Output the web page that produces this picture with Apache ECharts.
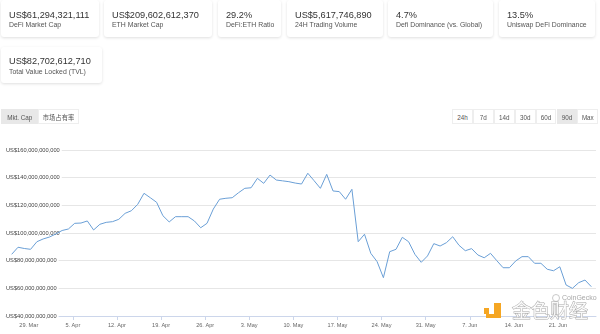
<!DOCTYPE html>
<html>
<head>
<meta charset="utf-8">
<script src="https://cdn.jsdelivr.net/npm/echarts@6/dist/echarts.min.js"></script>
<style>
  html, body { margin: 0; padding: 0; background: #fff; }
  body { width: 600px; height: 334px; position: relative; overflow: hidden;
         font-family: "Liberation Sans", Arial, sans-serif; }
  #chart { position: absolute; left: 0; top: 0; width: 600px; height: 334px; }
  .card { position: absolute; background: #fff; border-radius: 3px;
          box-shadow: 0 1px 3px rgba(0,0,0,0.13); box-sizing: border-box; padding-left: 8px; }
  .card .v { position: absolute; left: 8px; font-size: 9.2px; color: #333; line-height: 10px; white-space: nowrap; }
  .card .l { position: absolute; left: 8px; font-size: 6.9px; color: #555; line-height: 8px; white-space: nowrap; }
  .btn { position: absolute; top: 109px; height: 15px; line-height: 15px; font-size: 6.3px; color: #555;
         text-align: center; background: #fff; border: 1px solid #eee; box-sizing: border-box; }
  .btn.on { background: #e8e8e8; border-color: #e8e8e8; }
  .cjk { font-family: "Noto Sans CJK SC", sans-serif; }
</style>
</head>
<body>
<div id="chart"></div>
<div id="cards"></div>
<div id="buttons"></div>
<script>
// Summary figures shown above the chart
const statValues = ['US$61,294,321,111', 'US$209,602,612,370', '29.2%', 'US$5,617,746,890', '4.7%', '13.5%', 'US$82,702,612,710'];
const statLabels = ['DeFi Market Cap', 'ETH Market Cap', 'DeFi:ETH Ratio', '24H Trading Volume', 'Defi Dominance (vs. Global)', 'Uniswap DeFi Dominance', 'Total Value Locked (TVL)'];

// Range selector buttons
const modeButtons = ['Mkt. Cap', '市场占有率'];
const rangeButtons = ['24h', '7d', '14d', '30d', '60d', '90d', 'Max'];

// DeFi market cap, one value per day, in billions of US$
const firstDay = Date.UTC(2021, 2, 26, 7);
const marketCapBn = [
  84.6, 89.7, 88.8, 88.2, 93.7, 95.7, 97.1, 99.3, 101.8, 102.9,
  107.0, 107.2, 108.7, 102.2, 106.3, 107.7, 108.2, 109.9, 114.2, 116.1,
  120.7, 128.7, 125.5, 122.2, 112.5, 108.0, 111.8, 111.8, 111.8, 108.7,
  103.8, 107.0, 117.3, 124.4, 125.1, 125.5, 129.1, 132.3, 132.7, 139.5,
  135.9, 141.9, 138.3, 137.7, 137.1, 136.1, 135.4, 143.2, 137.8, 132.3,
  142.4, 130.4, 129.9, 124.4, 131.6, 93.7, 99.1, 85.3, 79.3, 67.7,
  86.5, 88.2, 96.9, 93.7, 84.6, 78.8, 83.4, 92.3, 90.6, 93.0,
  97.3, 91.1, 87.2, 88.7, 84.1, 82.1, 85.3, 80.0, 74.9, 74.9,
  79.8, 82.9, 82.9, 78.1, 78.1, 73.8, 72.7, 75.6, 62.4, 60.0,
  64.1, 66.0, 61.2
];

// Weekly tick dates on the date axis
const weekTicks = ['2021-03-29', '2021-04-05', '2021-04-12', '2021-04-19', '2021-04-26', '2021-05-03',
  '2021-05-10', '2021-05-17', '2021-05-24', '2021-05-31', '2021-06-07', '2021-06-14', '2021-06-21'];
const monthNames = ['Jan', 'Feb', 'Mar', 'Apr', 'May', 'Jun', 'Jul', 'Aug', 'Sep', 'Oct', 'Nov', 'Dec'];

// Y axis ticks (US$)
const yTicks = [40e9, 60e9, 80e9, 100e9, 120e9, 140e9, 160e9];

// ---- summary cards ----
const cardBoxes = [
  [1, 0, 98, 37], [104, 0, 108, 37], [218, 0, 63, 37], [287, 0, 96, 37],
  [388, 0, 105, 37], [499, 0, 96, 37], [1, 47, 101, 36]
];
const cardsEl = document.getElementById('cards');
statValues.forEach((v, i) => {
  const [x, y, w, h] = cardBoxes[i];
  const c = document.createElement('div');
  c.className = 'card';
  c.style.cssText = `left:${x}px;top:${y}px;width:${w}px;height:${h}px;`;
  c.innerHTML = `<div class="v" style="top:${i === 6 ? 9 : 10}px">${v}</div><div class="l" style="top:21px">${statLabels[i]}</div>`;
  cardsEl.appendChild(c);
});

// ---- buttons ----
const btnEl = document.getElementById('buttons');
const modeBoxes = [[1, 37.5], [38, 41]];
modeButtons.forEach((t, i) => {
  const b = document.createElement('div');
  b.className = 'btn' + (i === 0 ? ' on' : '') + (i === 1 ? ' cjk' : '');
  b.style.left = modeBoxes[i][0] + 'px';
  b.style.width = modeBoxes[i][1] + 'px';
  b.textContent = t;
  btnEl.appendChild(b);
});
rangeButtons.forEach((t, i) => {
  const b = document.createElement('div');
  b.className = 'btn' + (t === '90d' ? ' on' : '');
  b.style.left = (452 + i * 20.9) + 'px';
  b.style.width = '20.9px';
  b.textContent = t;
  btnEl.appendChild(b);
});

// ---- chart ----
const DAY = 86400000;
const seriesData = marketCapBn.map((v, i) => [firstDay + i * DAY, v * 1e9]);
const tickTimes = weekTicks.map(s => Date.parse(s + 'T00:00:00Z'));
const xMin = firstDay - 0.905 * DAY;
const xMax = xMin + 93.65 * DAY;

function withCommas(n) {
  return String(Math.round(n)).replace(/\B(?=(\d{3})+(?!\d))/g, ',');
}

const chart = echarts.init(document.getElementById('chart'), null, { renderer: 'canvas' });
chart.setOption({
  animation: false,
  grid: { left: 6, right: 4, top: 150, bottom: 18, containLabel: false },
  xAxis: {
    type: 'value',
    min: xMin,
    max: xMax,
    axisLine: { show: true, onZero: false, lineStyle: { color: '#ccd6eb', width: 1 } },
    axisTick: { show: true, length: 4, lineStyle: { color: '#ccd6eb' }, customValues: tickTimes },
    axisLabel: {
      customValues: tickTimes,
      fontSize: 5.6, color: '#666', margin: 6,
      fontFamily: 'Liberation Sans, Arial, sans-serif',
      formatter: v => { const d = new Date(v); return d.getUTCDate() + '. ' + monthNames[d.getUTCMonth()]; }
    },
    splitLine: { show: false }
  },
  yAxis: {
    type: 'value',
    min: yTicks[0],
    max: yTicks[yTicks.length - 1],
    interval: 20e9,
    axisLine: { show: false },
    axisTick: { show: false },
    splitLine: { lineStyle: { color: '#e6e6e6', width: 1 } },
    axisLabel: {
      inside: true, margin: 0,
      fontSize: 5.7, color: '#444',
      fontFamily: 'Liberation Sans, Arial, sans-serif',
      verticalAlign: 'middle', lineHeight: 6,
      backgroundColor: '#fff', padding: [0, 2, 5, 0],
      formatter: v => 'US$' + withCommas(v)
    }
  },
  series: [{
    type: 'line',
    data: seriesData,
    showSymbol: false,
    lineStyle: { color: '#6a9fd6', width: 1 },
    z: 3
  }],
  graphic: [
    { type: 'circle', shape: { cx: 556, cy: 298, r: 3.5 }, style: { fill: '#fff', stroke: '#bbb', lineWidth: 0.8 }, z: 10 },
    { type: 'text', x: 562, y: 298, style: { text: 'CoinGecko', fill: '#a8a8a8', fontSize: 7, fontFamily: 'Liberation Sans, Arial', verticalAlign: 'middle' }, z: 10 },
    // site watermark
    { type: 'rect', shape: { x: 484, y: 308, width: 5, height: 6 }, style: { fill: '#f5a623' }, z: 10 },
    { type: 'rect', shape: { x: 494, y: 303, width: 7, height: 15 }, style: { fill: '#f5a623' }, z: 10 },
    { type: 'rect', shape: { x: 486, y: 314, width: 15, height: 4 }, style: { fill: '#f5a623' }, z: 10 },
    { type: 'text', x: 512, y: 311, style: { text: '金色财经', fill: 'rgba(255,255,255,0.9)', stroke: '#aaa', lineWidth: 1,
        fontSize: 19, fontFamily: 'Noto Sans CJK SC', verticalAlign: 'middle' }, z: 10 }
  ]
});
</script>
</body>
</html>
